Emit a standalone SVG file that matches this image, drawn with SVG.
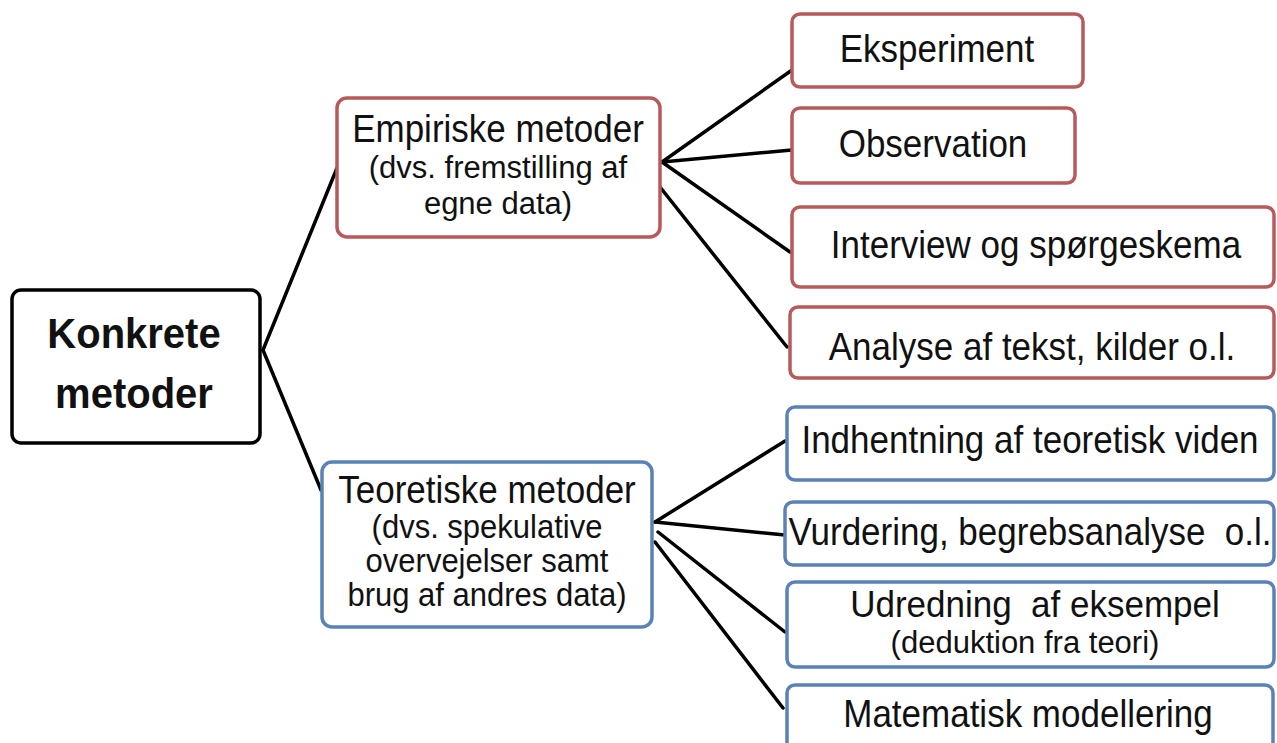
<svg xmlns="http://www.w3.org/2000/svg" width="1277" height="743" viewBox="0 0 1277 743">
<style>
text{font-family:"Liberation Sans",Arial,sans-serif;fill:#111;text-anchor:middle}
.root{fill:#fff;stroke:#000;stroke-width:3.5}
.red{fill:#fff;stroke:#b65a5b;stroke-width:3.5}
.blue{fill:#fff;stroke:#5b82b6;stroke-width:3.5}
.big{font-size:35px}
.sub{font-size:31px}
.bold{font-size:40px;font-weight:bold}
.conn line{stroke:#000;stroke-width:3.5;stroke-linecap:round}
</style>
<rect width="1277" height="743" fill="#fff"/>
<g class="conn" id="connectors">
<line x1="263" y1="350" x2="337" y2="168"/>
<line x1="263" y1="350" x2="321" y2="490"/>
<line x1="662" y1="162" x2="792" y2="70"/>
<line x1="662" y1="162" x2="792" y2="150"/>
<line x1="662" y1="162" x2="790" y2="252"/>
<line x1="660" y1="187" x2="787" y2="347"/>
<line x1="655" y1="522" x2="785" y2="441"/>
<line x1="655" y1="522" x2="785" y2="535"/>
<line x1="658" y1="532" x2="785" y2="632"/>
<line x1="655" y1="542" x2="783" y2="708"/>
</g>
<g id="konkrete">
<rect class="root" x="12" y="290" width="248" height="153" rx="9"/>
<text class="bold" transform="translate(134 348) scale(1 1.05)">Konkrete</text>
<text class="bold" transform="translate(134 408) scale(1 1.05)">metoder</text>
</g>
<g id="empiriske">
<rect class="red" x="337" y="98" width="323" height="139" rx="10"/>
<text class="big" transform="translate(498 142) scale(1 1.1)">Empiriske metoder</text>
<text class="sub" transform="translate(498 178)">(dvs. fremstilling af</text>
<text class="sub" transform="translate(498 214)">egne data)</text>
</g>
<g id="teoretiske">
<rect class="blue" x="322" y="462" width="330" height="165" rx="10"/>
<text class="big" transform="translate(487 503) scale(1 1.1)">Teoretiske metoder</text>
<text class="sub" transform="translate(487 538) scale(1 1.05)">(dvs. spekulative</text>
<text class="sub" transform="translate(487 572) scale(1 1.05)">overvejelser samt</text>
<text class="sub" transform="translate(487 606) scale(1 1.05)">brug af andres data)</text>
</g>
<g id="eksperiment">
<rect class="red" x="792" y="14" width="291" height="73" rx="8"/>
<text class="big" transform="translate(937 62) scale(1 1.1)">Eksperiment</text>
</g>
<g id="observation">
<rect class="red" x="792" y="108" width="283" height="75" rx="8"/>
<text class="big" transform="translate(933 157) scale(1 1.1)">Observation</text>
</g>
<g id="interview">
<rect class="red" x="792" y="207" width="482" height="80" rx="8"/>
<text class="big" transform="translate(1036 258) scale(1 1.1)">Interview og spørgeskema</text>
</g>
<g id="analyse">
<rect class="red" x="790" y="307" width="484" height="71" rx="8"/>
<text class="big" transform="translate(1032 360) scale(1 1.1)">Analyse af tekst, kilder o.l.</text>
</g>
<g id="indhentning">
<rect class="blue" x="787" y="407" width="487" height="73" rx="8"/>
<text class="big" transform="translate(1030 453) scale(1 1.1)">Indhentning af teoretisk viden</text>
</g>
<g id="vurdering">
<rect class="blue" x="785" y="502" width="489" height="63" rx="8"/>
<text class="big" transform="translate(1030 545) scale(1 1.1)" xml:space="preserve">Vurdering, begrebsanalyse  o.l.</text>
</g>
<g id="udredning">
<rect class="blue" x="787" y="582" width="487" height="85" rx="8"/>
<text class="big" transform="translate(1035 617) scale(1 1.05)" xml:space="preserve">Udredning  af eksempel</text>
<text class="sub" transform="translate(1025 653)">(deduktion fra teori)</text>
</g>
<g id="matematisk">
<rect class="blue" x="787" y="685" width="486" height="80" rx="8"/>
<text class="big" transform="translate(1028 727) scale(1 1.1)">Matematisk modellering</text>
</g>
</svg>
